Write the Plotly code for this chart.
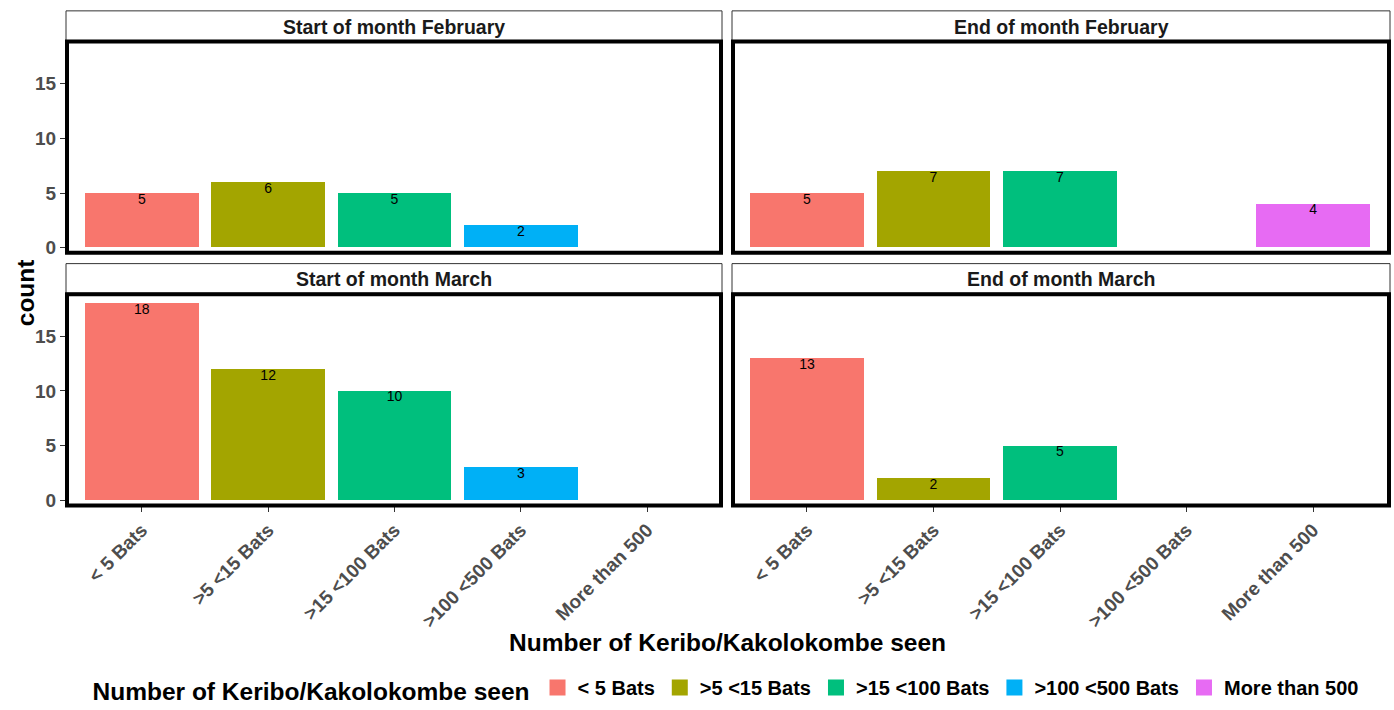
import plotly.graph_objects as go

categories = ["< 5 Bats", ">5 <15 Bats", ">15 <100 Bats", ">100 <500 Bats", "More than 500"]
colors = ["#F8766D", "#A3A500", "#00BF7D", "#00B0F6", "#E76BF3"]
panels = ["Start of month February", "End of month February", "Start of month March", "End of month March"]
start_feb = [5, 6, 5, 2, None]
end_feb = [5, 7, 7, None, 4]
start_mar = [18, 12, 10, 3, None]
end_mar = [13, 2, 5, None, None]
panel_values = [start_feb, end_feb, start_mar, end_mar]
y_ticks = [0, 5, 10, 15]
axis_title = "Number of Keribo/Kakolokombe seen"

W, H = 1394, 710
FONT = "Liberation Sans, Arial, sans-serif"

def px(x):
    return x / W

def py(y):
    return 1 - y / H

x_domains = [[px(66), px(723)], [px(731), px(1389)]]
y_domains = [[py(256), py(42)], [py(512), py(298)]]
Y_RANGE = [-0.45, 18.83]

fig = go.Figure()
for p, vals in enumerate(panel_values):
    ax = "" if p == 0 else str(p + 1)
    for i, cat in enumerate(categories):
        v = vals[i]
        if v is None:
            continue
        fig.add_trace(go.Bar(
            x=[cat], y=[v], width=0.9, marker=dict(color=colors[i], line=dict(width=0)),
            xaxis="x" + ax, yaxis="y" + ax, showlegend=False, hoverinfo="x+y",
        ))
        fig.add_trace(go.Scatter(
            x=[cat], y=[v], mode="text", text=[str(v)], textposition="bottom center",
            textfont=dict(family=FONT, size=14, color="black"),
            xaxis="x" + ax, yaxis="y" + ax, showlegend=False, hoverinfo="skip",
        ))

for i, cat in enumerate(categories):
    fig.add_trace(go.Scatter(
        x=[None], y=[None], mode="markers", name=cat,
        marker=dict(symbol="square", size=20, color=colors[i]),
        xaxis="x", yaxis="y", showlegend=True,
    ))

layout = dict(
    width=W, height=H, margin=dict(l=0, r=0, t=0, b=0),
    plot_bgcolor="white", paper_bgcolor="white",
    bargap=0, barmode="overlay",
    font=dict(family=FONT),
    legend=dict(
        orientation="h", x=px(727), xanchor="center", y=py(698), yanchor="middle",
        title=dict(text=axis_title, side="left", font=dict(family=FONT, size=24.5, color="black", weight="bold")),
        font=dict(family=FONT, size=20, color="black", weight="bold"),
        itemsizing="trace", bgcolor="rgba(0,0,0,0)",
    ),
    shapes=[], annotations=[],
)

for p in range(4):
    ax = "" if p == 0 else str(p + 1)
    col = p % 2
    row = p // 2
    xa = dict(
        domain=x_domains[col], type="category", categoryorder="array", categoryarray=categories,
        range=[-0.6, 4.6], showgrid=False, zeroline=False, showline=False,
        anchor="y" + ax, fixedrange=True,
    )
    if row == 1:
        xa.update(ticks="outside", ticklen=5, tickcolor="#333333", tickwidth=1, tickangle=-45,
                  tickfont=dict(family=FONT, size=19, color="#4d4d4d", weight="bold"), showticklabels=True)
    else:
        xa.update(ticks="", showticklabels=False)
    ya = dict(
        domain=y_domains[row], range=Y_RANGE, showgrid=False, zeroline=False, showline=False,
        anchor="x" + ax, fixedrange=True, tickvals=y_ticks,
    )
    if col == 0:
        ya.update(ticks="outside", ticklen=5, tickcolor="#333333", tickwidth=1,
                  tickfont=dict(family=FONT, size=19, color="#4d4d4d", weight="bold"), showticklabels=True)
    else:
        ya.update(ticks="", showticklabels=False)
    layout["xaxis" + ax] = xa
    layout["yaxis" + ax] = ya

strip_x = [(66, 722), (732, 1390)]
strip_y = [(11, 41), (267, 297)]
panel_x = [(67, 721), (733, 1389)]
panel_y = [(42, 256), (298, 512)]
for p, title in enumerate(panels):
    col = p % 2
    row = p // 2
    layout["shapes"].append(dict(
        type="rect", xref="paper", yref="paper",
        x0=px(strip_x[col][0]), x1=px(strip_x[col][1]), y0=py(strip_y[row][1]), y1=py(strip_y[row][0]),
        fillcolor="white", line=dict(color="#333333", width=1), layer="below",
    ))
    layout["shapes"].append(dict(
        type="rect", xref="paper", yref="paper",
        x0=px(panel_x[col][0]), x1=px(panel_x[col][1]), y0=py(panel_y[row][1]), y1=py(panel_y[row][0]),
        fillcolor="rgba(0,0,0,0)", line=dict(color="black", width=4), layer="above",
    ))
    layout["annotations"].append(dict(
        text=title, xref="paper", yref="paper",
        x=px((strip_x[col][0] + strip_x[col][1]) / 2), y=py((strip_y[row][0] + strip_y[row][1]) / 2 + 1),
        xanchor="center", yanchor="middle", showarrow=False,
        font=dict(family=FONT, size=19.5, color="#1a1a1a", weight="bold"),
    ))

layout["annotations"].append(dict(
    text="count", xref="paper", yref="paper", x=px(25), y=py(297), textangle=-90,
    xanchor="center", yanchor="middle", showarrow=False,
    font=dict(family=FONT, size=24.5, color="black", weight="bold"),
))
layout["annotations"].append(dict(
    text=axis_title, xref="paper", yref="paper", x=px(727), y=py(651),
    xanchor="center", yanchor="middle", showarrow=False,
    font=dict(family=FONT, size=24.5, color="black", weight="bold"),
))

fig.update_layout(**layout)
fig.write_html(
    "out.html",
    config={"displayModeBar": False},
    post_script="document.body.style.margin='0';document.body.style.overflow='hidden';document.documentElement.style.overflow='hidden';",
)
